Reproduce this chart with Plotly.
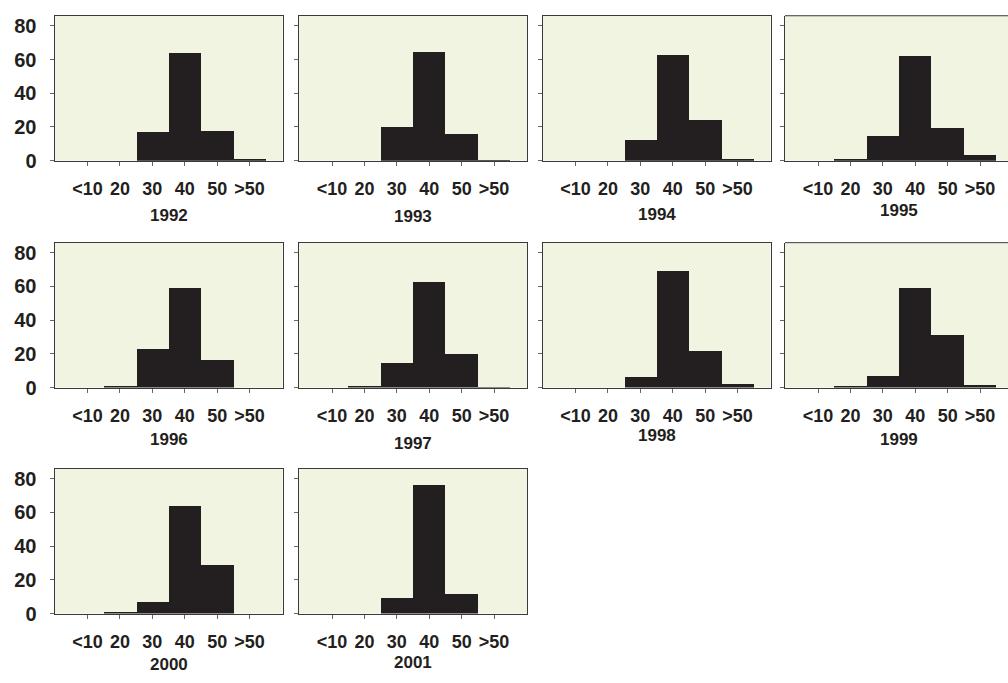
import plotly.graph_objects as go

# Age-class distribution (%) per year
categories = ["<10", "20", "30", "40", "50", ">50"]
years = ["1992", "1993", "1994", "1995", "1996",
         "1997", "1998", "1999", "2000", "2001"]

v1992 = [0, 0, 17, 64, 18, 1]
v1993 = [0, 0, 20, 64.5, 16, 0.5]
v1994 = [0, 0, 12.5, 63, 24.5, 1]
v1995 = [0, 1, 15, 62.5, 19.5, 3.5]
v1996 = [0, 1, 23, 59, 16.5, 0]
v1997 = [0, 1, 15, 63, 20, 0.5]
v1998 = [0, 0, 6.5, 69.5, 22, 2.3]
v1999 = [0, 1, 7, 59.5, 31.5, 2]
v2000 = [0, 1, 7, 64, 29, 0]
v2001 = [0, 0, 9.5, 76.5, 12, 0]

series = [v1992, v1993, v1994, v1995, v1996,
          v1997, v1998, v1999, v2000, v2001]

y_ticks = [0, 20, 40, 60, 80]

# Page geometry (pixels)
W, H = 1008, 683
col_left = [54.5, 299, 542.5, 785]
panel_w = 228
row_top = [15, 246, 476]
panel_h = 147.5
unit_px = 32.4            # pixels per category step
year_offset = [55, 56, 54, 50, 52, 56, 48, 52, 51, 49]

FONT = "Liberation Sans, Arial, Helvetica, sans-serif"
BAR = "#231f20"
BG = "#f0f4e0"
FRAME = "#3a3a3a"
TEXT = "#231f20"

fig = go.Figure()
annotations = []

for i, (yr, vals) in enumerate(zip(years, series)):
    r, c = divmod(i, 4)
    n = i + 1
    xname = "x" if n == 1 else f"x{n}"
    yname = "y" if n == 1 else f"y{n}"

    x0 = col_left[c]
    x1 = min(x0 + panel_w, W)
    y_top = row_top[r]
    y_bot = y_top + panel_h

    x_lo = -1.02
    x_hi = x_lo + (x1 - x0) / unit_px
    clipped = x0 + panel_w > W

    fig.add_trace(go.Bar(
        x=categories, y=vals, width=1.0,
        marker=dict(color=BAR, line=dict(width=0)),
        xaxis=xname, yaxis=yname, showlegend=False,
        hoverinfo="x+y",
    ))

    fig.layout[f"xaxis{'' if n == 1 else n}"] = dict(
        domain=[x0 / W, x1 / W],
        anchor=yname,
        type="category",
        categoryorder="array", categoryarray=categories,
        range=[x_lo, x_hi],
        showgrid=False, zeroline=False,
        showline=True, linecolor=FRAME, linewidth=1,
        mirror=not clipped,
        ticks="outside", ticklen=4, tickcolor="#666", tickwidth=1,
        tickfont=dict(family=FONT, size=18, color=TEXT, weight="bold"),
        ticklabelstandoff=8,
        fixedrange=True,
    )
    fig.layout[f"yaxis{'' if n == 1 else n}"] = dict(
        domain=[1 - y_bot / H, 1 - y_top / H],
        anchor=xname,
        range=[0, 86],
        tickmode="array", tickvals=y_ticks,
        showticklabels=(c == 0),
        showgrid=False, zeroline=False,
        showline=True, linecolor=FRAME, linewidth=1,
        mirror=True,
        ticks="outside", ticklen=4, tickcolor="#666", tickwidth=1,
        tickfont=dict(family=FONT, size=20, color=TEXT, weight="bold"),
        ticklabelstandoff=9,
        fixedrange=True,
    )
    if clipped:
        # panel runs off the right edge of the page: no right-hand frame line
        fig.layout[f"xaxis{'' if n == 1 else n}"].mirror = False
        fig.layout[f"yaxis{'' if n == 1 else n}"].mirror = False
        fig.add_shape(type="line", xref=f"{xname} domain", yref=f"{yname} domain",
                      x0=0, x1=1, y0=1, y1=1,
                      line=dict(color=FRAME, width=1))

    annotations.append(dict(
        text=yr, showarrow=False,
        xref=f"{xname} domain", yref=f"{yname} domain",
        x=(panel_w / 2) / (x1 - x0), y=0,
        xanchor="center", yanchor="middle",
        yshift=-year_offset[i],
        font=dict(family=FONT, size=17, color=TEXT, weight="bold"),
    ))

fig.update_layout(
    width=W, height=H, autosize=False,
    margin=dict(l=0, r=0, t=0, b=0),
    paper_bgcolor="white",
    plot_bgcolor=BG,
    bargap=0,
    annotations=annotations,
)

fig.write_html("out.html", config={"displayModeBar": False})
